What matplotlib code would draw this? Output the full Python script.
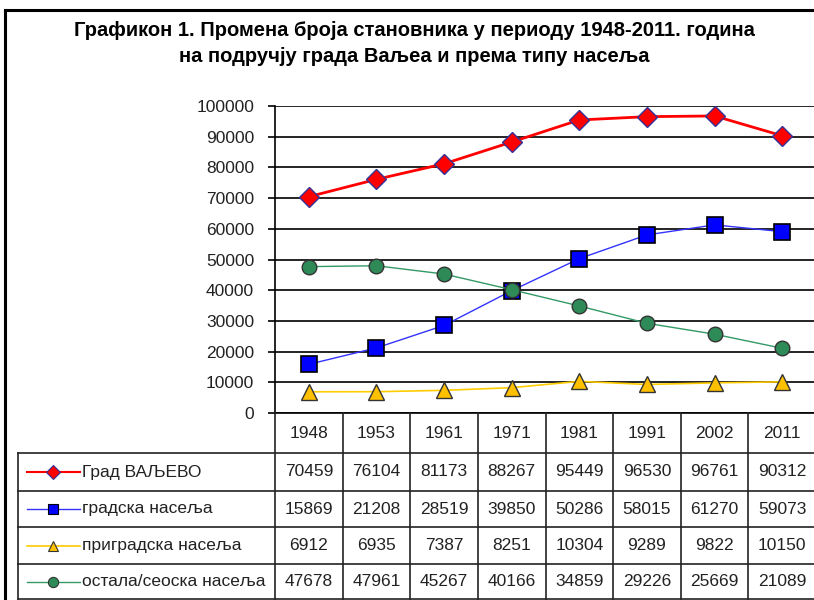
import matplotlib
matplotlib.use("Agg")
import matplotlib.pyplot as plt
from matplotlib.lines import Line2D
from matplotlib import font_manager

years = ["1948", "1953", "1961", "1971", "1981", "1991", "2002", "2011"]
series_names = ["Град ВАЉЕВО", "градска насеља", "приградска насеља", "остала/сеоска насеља"]
grad_valjevo = [70459, 76104, 81173, 88267, 95449, 96530, 96761, 90312]
gradska = [15869, 21208, 28519, 39850, 50286, 58015, 61270, 59073]
prigradska = [6912, 6935, 7387, 8251, 10304, 9289, 9822, 10150]
ostala = [47678, 47961, 45267, 40166, 34859, 29226, 25669, 21089]
yticks = [0, 10000, 20000, 30000, 40000, 50000, 60000, 70000, 80000, 90000, 100000]
title_lines = ["Графикон 1. Промена броја становника у периоду 1948-2011. година",
               "на подручју града Ваљеа и према типу насеља"]

avail = {f.name for f in font_manager.fontManager.ttflist}
narrow = "Liberation Sans Narrow" if "Liberation Sans Narrow" in avail else "Liberation Sans"
txtfont = ["Liberation Sans", "DejaVu Sans"]

W, H = 814, 600
fig = plt.figure(figsize=(W / 100, H / 100), dpi=100)

def fx(px):
    return px / W

def fy(py):
    return 1 - py / H

styles = [
    dict(color="#FF0000", lw=2.0, marker="D", ms=10, mfc="#FF0000", mec="#333399", mew=1.0),
    dict(color="#3333FF", lw=1.0, marker="s", ms=11, mfc="#0000FF", mec="#000000", mew=1.2),
    dict(color="#FFCC00", lw=1.2, marker="^", ms=11, mfc="#FFC000", mec="#333333", mew=1.0),
    dict(color="#339966", lw=1.0, marker="o", ms=10.5, mfc="#2E8B57", mec="#333333", mew=1.0),
]
data = [grad_valjevo, gradska, prigradska, ostala]

# Plot area
x0, x1 = 275, 816
ytop, ybot = 106, 413
colw = (x1 - x0) / len(years)
ax = fig.add_axes([fx(x0), fy(ybot), (x1 - x0) / W, (ybot - ytop) / H])
xs = list(range(len(years)))
for vals, st in zip(data, styles):
    ax.plot(xs, vals, zorder=3, clip_on=False, **st)
ax.set_xlim(-0.5, len(years) - 0.5)
ax.set_ylim(0, 100000)
ax.set_yticks(yticks)
ax.set_yticklabels([str(v) for v in yticks], fontfamily=txtfont, fontsize=12.5, color="#222222")
ax.set_xticks([])
ax.grid(axis="y", color="black", lw=1.2)
ax.tick_params(axis="y", length=5, width=1.2, color="black", pad=10)
for s in ["top", "right"]:
    ax.spines[s].set_visible(False)
ax.spines["left"].set_linewidth(1.2)
ax.spines["bottom"].set_linewidth(1.2)

# Table
tab = fig.add_axes([0, 0, 1, 1], facecolor="none")
tab.set_xlim(0, W)
tab.set_ylim(H, 0)
tab.axis("off")
lc = "#222222"
row_y = [413, 453, 491, 527, 564, 599]
for k in range(len(years) + 1):
    xv = x0 + k * colw
    tab.plot([xv, xv], [413, 599], color=lc, lw=1.2)
tab.plot([18, 18], [453, 599], color=lc, lw=1.2)
for yv in row_y[1:]:
    tab.plot([18, W + 5], [yv, yv], color=lc, lw=1.2)
for k, yr in enumerate(years):
    tab.text(x0 + (k + 0.5) * colw, (row_y[0] + row_y[1]) / 2 + 1, yr, ha="center", va="center",
             fontsize=12.5, family=txtfont, color="#222222")
for r, (name, vals, st) in enumerate(zip(series_names, data, styles)):
    yc = (row_y[r + 1] + row_y[r + 2]) / 2
    tab.add_line(Line2D([27, 80], [yc, yc], color=st["color"], lw=st["lw"] if r else 1.5))
    tab.add_line(Line2D([53], [yc], marker=st["marker"], ms=st["ms"] * 0.7, mfc=st["mfc"],
                        mec=st["mec"], mew=0.8, ls="none"))
    tab.text(82, yc, name, ha="left", va="center", fontsize=12.5, family=txtfont, color="#222222")
    for k, v in enumerate(vals):
        tab.text(x0 + (k + 0.5) * colw, yc, str(v), ha="center", va="center",
                 fontsize=12.5, family=txtfont, color="#222222")

# Outer border
tab.plot([5, 5], [10, H + 5], color="black", lw=2.2)
tab.plot([5, W + 5], [10, 10], color="black", lw=2.2)

# Title
for i, line in enumerate(title_lines):
    tab.text(414, 31 + i * 25, line, ha="center", va="center", fontsize=14.5,
             fontweight="bold", family=[narrow, "DejaVu Sans"], color="black")

fig.savefig("out.png", dpi=100)
